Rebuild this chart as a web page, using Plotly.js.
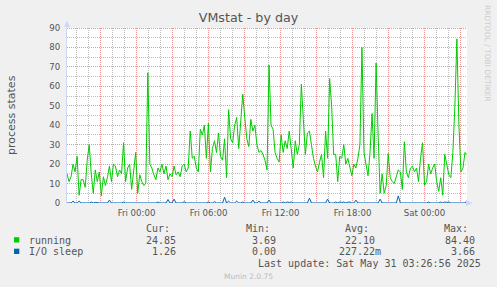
<!DOCTYPE html>
<html><head><meta charset="utf-8">
<script src="https://cdn.plot.ly/plotly-3.0.1.min.js"></script>
<style>html,body{margin:0;padding:0;background:#F0F0F0;overflow:hidden}</style>
</head><body><div id="chart" style="width:497px;height:287px"></div>
<script>
// ---- data (10-minute-ish samples) ----
const running = [
15,11,13.5,20,16,24,4,12,12,8, 22,30,15,5,17,11,16,3.7,13.5,9,
13,19,11,20,19,13.5,17,15,31,11, 18,20,7,18,26,5,14.5,11,9,10,
67,20,18,14.5,12,18,16,20,15,19, 12,15,13.5,19,14.5,16,13.5,19,20,16,
18,37,23,24,18,16,38,35,40,23, 41,16,28,32,26,36,24,22,33,13,
48,33,31,40,44,28,40,56,44,33, 29,43,37,40,30,26,27,25,22,17,
71,40,38,26,23,21,35,26,32,28, 37,26,18,32,25,30,61,43,25,36,
37,30,23,19,16,21,25,13,37,23, 64,50,25,25,11,24,23,30,20,23,
19,14,20,18,23,30,80,26,20,14, 26,46,23,72,35,5,15,5,9,25.5,
13,11,10,14,17,16,7,31.5,16,13, 18,19,16,18,11,23,31,9,11,20,
15,18,20,11,6,13,4,25,20,14.5, 13,26,50,84.4,40,16,18,26,24.85
];
const ioSleep = [
0,0,0,1,0,0,1,0,0,0, 0.3,0,0.5,0,0.3,0,0,0,0,0,
0,1.5,0,0,0,0,0,0,0.5,0, 0,0,0,0,0,0,0,0,0,0,
0,0,0,0,0,0.5,0,0,0,0, 1.8,0,0,2,0,0,0,0,0.7,0,
0,0,0,0,0,0,0,0,0,0, 0.5,0,0,0.7,0,0,0,0,3,0,
1,0,0,0,1,0,0,0.5,0,0, 0,0,1.5,0,0,1,0,0,0,0,
1.5,0,0,0,0,0,0,0.5,0,0.5, 0.3,0.5,0,0,0,0,0,0,0,0,
2.5,0,0,0,0,0,0,0,0,2, 0,0,0,0.5,0,0.5,0.3,0.5,0,0.4,
0.5,0,0,1.5,0,0,0,0,0,0, 0,0,0,0,0,2,0,0,0,0,
0,0,0,0,3.66,0,0,0,0,0, 0,0.3,0.3,0,0,0,0,0,0,0.5,
0,0,0,0,0,0.5,0,0.5,0.3,0.5, 0,0,0,0,0,0,0,0,1.26
];
const seriesNames = ['running', 'I/O sleep'];
const seriesColors = ['#00CC00', '#0066B3'];
const statHeaders = ['Cur:', 'Min:', 'Avg:', 'Max:'];
const runningStats = ['24.85', '3.69', '22.10', '84.40'];
const ioSleepStats = ['1.26', '0.00', '227.22m', '3.66'];
const yTickVals = [0, 10, 20, 30, 40, 50, 60, 70, 80, 90];
const yMinorVals = [5, 15, 25, 35, 45, 55, 65, 75, 85];
const tickTimes = ['2025-05-29 21:00','2025-05-30 00:00','2025-05-30 03:00','2025-05-30 06:00',
  '2025-05-30 09:00','2025-05-30 12:00','2025-05-30 15:00','2025-05-30 18:00',
  '2025-05-30 21:00','2025-05-31 00:00','2025-05-31 03:00'];
const tickLabels = ['','Fri 00:00','','Fri 06:00','','Fri 12:00','','Fri 18:00','','Sat 00:00',''];
const rangeStart = '2025-05-29 18:12:30';
const rangeEnd = '2025-05-31 03:32:30';
const chartTitle = 'VMstat - by day';
const yTitle = 'process states';
const lastUpdate = 'Last update: Sat May 31 03:26:56 2025';
const footer = 'Munin 2.0.75';
const watermark = 'RRDTOOL / TOBI OETIKER';

// ---- sample times ----
const t0 = Date.UTC(2025, 4, 29, 18, 12, 30);
const t1 = Date.UTC(2025, 4, 31, 3, 32, 30);
const step = (t1 - t0) / (running.length - 1);
const fmt = ms => new Date(ms).toISOString().slice(0, 19).replace('T', ' ');
const times = running.map((_, i) => fmt(t0 + i * step));
const hourTimes = [];
for (let h = Date.UTC(2025, 4, 29, 19); h <= t1; h += 3600000) hourTimes.push(fmt(h).slice(0, 16));

// ---- pixel helpers (layout only) ----
const W = 497, H = 287, L = 67, R = 30, T = 28, B = 84;
const PW = W - L - R, PH = H - T - B;
const YMAX = 90;
const px = x => (x - L) / PW;
const py = y => (T + PH - y) / PH;
const snapY = v => (T + PH - (Math.round(T + PH - v * PH / YMAX - 0.5) + 0.5)) * YMAX / PH;

const mono = 'DejaVu Sans Mono, monospace';
const sans = 'DejaVu Sans, sans-serif';
const textCol = '#555555';

const ann = [];
function addText(text, x, y, xanchor, opts) {
  ann.push(Object.assign({text: text, xref: 'paper', yref: 'paper', x: px(x), y: py(y),
    xanchor: xanchor, yanchor: 'middle', showarrow: false,
    font: {family: mono, size: 10, color: textCol}}, opts || {}));
}
const headerRight = [172, 272, 371, 470];
const valueRight = [178, 278, 377, 477];
statHeaders.forEach((h, i) => addText(h, headerRight[i], 228.5, 'right'));
addText(seriesNames[0], 26.5, 240, 'left');
addText(seriesNames[1], 26.5, 251.5, 'left');
runningStats.forEach((v, i) => addText(v, valueRight[i], 240, 'right'));
ioSleepStats.forEach((v, i) => addText(v, valueRight[i] + (i === 2 ? 6 : 0), 251.5, 'right'));
addText(lastUpdate, 483, 263.5, 'right');
addText(footer, 248.5, 276.5, 'center', {font: {family: sans, size: 7.5, color: '#bbbbbb'}});
addText(yTitle, 11.5, 114.5, 'center', {textangle: -90, font: {family: sans, size: 11, color: textCol}});
addText(watermark, 487.5, 53.5, 'center', {textangle: 90, font: {family: sans, size: 7.5, color: '#cccccc'}});

const majorGrid = '#EE9494';
const minorGrid = '#BEBEBE';
const axisCol = '#CFD6F8';
const dash = '1px,1px';

// grid drawn as line traces under the data (minor first, then major, then the x baseline)
const gridTraces = [];
function gridLine(xs, ys, color, d) {
  gridTraces.push({x: xs, y: ys, type: 'scatter', mode: 'lines', hoverinfo: 'skip', showlegend: false,
    line: {color: color, width: 1, dash: d}});
}
yMinorVals.forEach(v => gridLine([rangeStart, rangeEnd], [snapY(v), snapY(v)], minorGrid, dash));
hourTimes.forEach(t => { if (!tickTimes.includes(t)) gridLine([t, t], [0, YMAX], minorGrid, dash); });
yTickVals.forEach(v => { if (v > 0) gridLine([rangeStart, rangeEnd], [snapY(v), snapY(v)], majorGrid, dash); });
tickTimes.forEach(t => gridLine([t, t], [0, YMAX], majorGrid, dash));
gridLine([rangeStart, rangeEnd], [0, 0], axisCol, 'solid');

const shapes = [
  {type: 'rect', xref: 'paper', yref: 'paper', x0: px(14), x1: px(19.3), y0: py(242.5), y1: py(237.2),
   fillcolor: seriesColors[0], line: {width: 0}},
  {type: 'rect', xref: 'paper', yref: 'paper', x0: px(14), x1: px(19.3), y0: py(254), y1: py(248.7),
   fillcolor: seriesColors[1], line: {width: 0}},
  {type: 'path', xref: 'paper', yref: 'paper',
   path: `M ${px(64)} ${py(27)} L ${px(67)} ${py(20.5)} L ${px(70)} ${py(27)} Z`,
   fillcolor: axisCol, line: {width: 0}},
  {type: 'path', xref: 'paper', yref: 'paper',
   path: `M ${px(466)} ${py(200)} L ${px(472.5)} ${py(203)} L ${px(466)} ${py(206)} Z`,
   fillcolor: axisCol, line: {width: 0}},
  {type: 'line', xref: 'paper', yref: 'paper', x0: px(466.5), x1: px(468), y0: py(203), y1: py(203),
   line: {color: axisCol, width: 1}}
];

const data = gridTraces.concat([
  {x: times, y: running, type: 'scatter', mode: 'lines', name: seriesNames[0],
   line: {color: seriesColors[0], width: 1}, hoverinfo: 'skip'},
  {x: times, y: ioSleep, type: 'scatter', mode: 'lines', name: seriesNames[1],
   line: {color: seriesColors[1], width: 1}, hoverinfo: 'skip'}
]);

const layout = {
  width: W, height: H,
  margin: {l: L, r: R, t: T, b: B, pad: 0},
  paper_bgcolor: '#F0F0F0', plot_bgcolor: '#FFFFFF',
  showlegend: false,
  title: {text: chartTitle, xref: 'container', yref: 'container', x: 0.5, y: 1 - 18 / H,
    xanchor: 'center', yanchor: 'middle', font: {family: sans, size: 12.7, color: textCol}},
  xaxis: {
    type: 'date', range: [rangeStart, rangeEnd], fixedrange: true,
    tickmode: 'array', tickvals: tickTimes, ticktext: tickLabels,
    ticks: 'outside', ticklen: 2, tickcolor: 'rgba(0,0,0,0)',
    tickfont: {family: sans, size: 8.6, color: textCol},
    showgrid: false, showline: false, zeroline: false
  },
  yaxis: {
    range: [0, YMAX], fixedrange: true, tickmode: 'array', tickvals: yTickVals,
    ticks: 'outside', ticklen: 4, tickcolor: 'rgba(0,0,0,0)',
    tickfont: {family: sans, size: 8.6, color: textCol},
    showgrid: false, showline: true, linecolor: axisCol, linewidth: 1, zeroline: false
  },
  annotations: ann,
  shapes: shapes
};

Plotly.newPlot('chart', data, layout, {displayModeBar: false, staticPlot: true});
</script>
</body></html>
